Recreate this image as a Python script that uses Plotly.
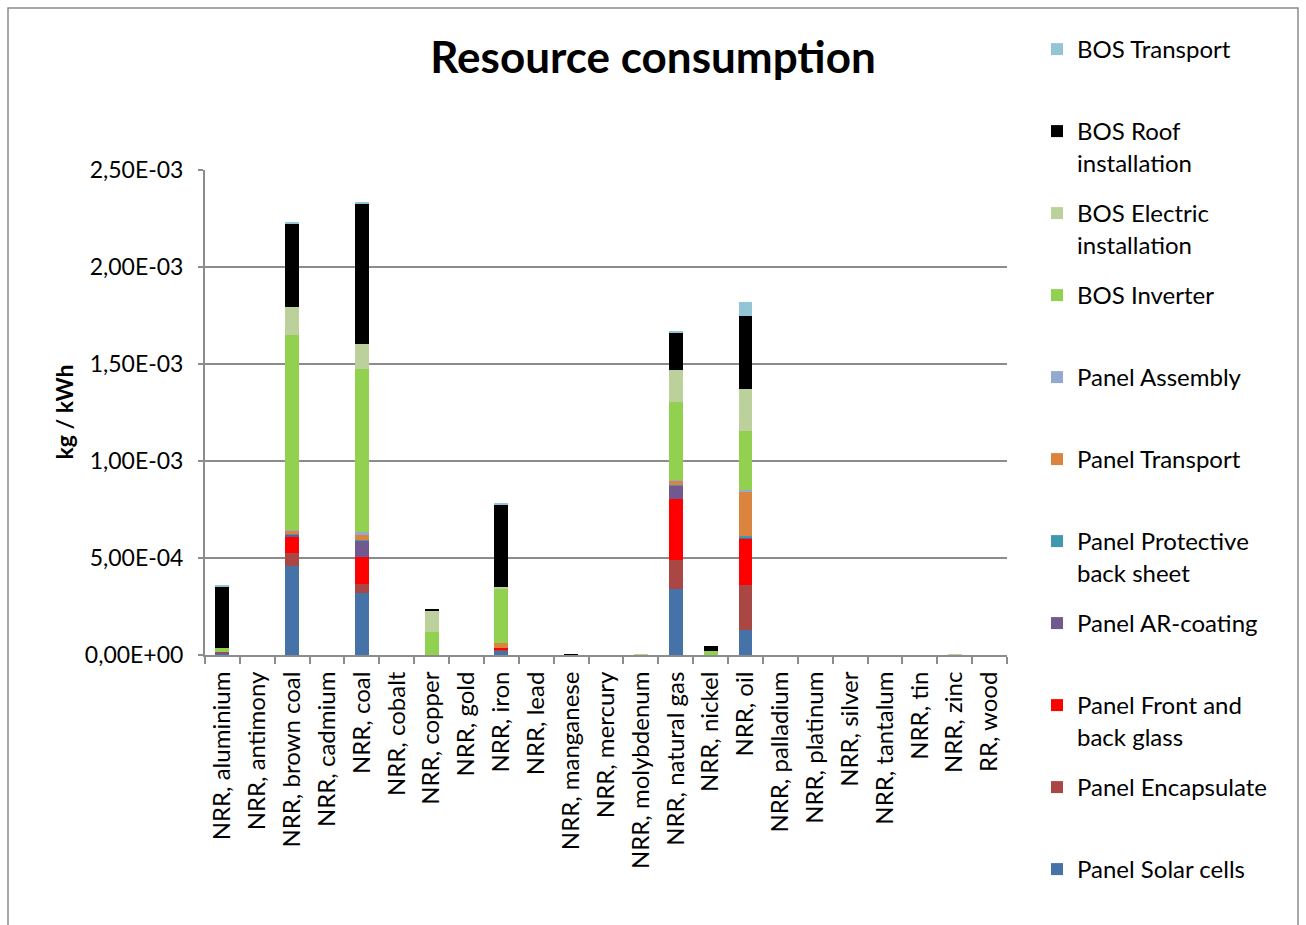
import plotly.graph_objects as go

categories = ["NRR, aluminium", "NRR, antimony", "NRR, brown coal", "NRR, cadmium", "NRR, coal",
              "NRR, cobalt", "NRR, copper", "NRR, gold", "NRR, iron", "NRR, lead", "NRR, manganese",
              "NRR, mercury", "NRR, molybdenum", "NRR, natural gas", "NRR, nickel", "NRR, oil",
              "NRR, palladium", "NRR, platinum", "NRR, silver", "NRR, tantalum", "NRR, tin",
              "NRR, zinc", "RR, wood"]

#                  alu     ant  bcoal     cad  coal     cob  copper gold iron    lead mang   merc moly   ngas     nick    oil      pal plat sil tan tin zinc wood
panel_solar_cells = [1.0e-5, 0, 4.60e-4, 0, 3.18e-4, 0, 0,      0, 2.3e-5, 0, 0,      0, 0,      3.39e-4, 0,      1.29e-4, 0, 0, 0, 0, 0, 0,      0]
panel_encapsulate = [2e-6,   0, 6.4e-5,  0, 4.6e-5,  0, 0,      0, 3e-6,   0, 0,      0, 0,      1.51e-4, 0,      2.32e-4, 0, 0, 0, 0, 0, 0,      0]
panel_glass       = [0,      0, 8.6e-5,  0, 1.42e-4, 0, 0,      0, 9e-6,   0, 0,      0, 0,      3.14e-4, 0,      2.37e-4, 0, 0, 0, 0, 0, 0,      0]
panel_ar_coating  = [3e-6,   0, 1.2e-5,  0, 8.2e-5,  0, 0,      0, 0,      0, 0,      0, 0,      6.9e-5,  0,      1.0e-5,  0, 0, 0, 0, 0, 0,      0]
panel_backsheet   = [0,      0, 3e-6,    0, 3e-6,    0, 0,      0, 0,      0, 0,      0, 0,      2e-6,    0,      3e-6,    0, 0, 0, 0, 0, 0,      0]
panel_transport   = [0,      0, 1.7e-5,  0, 2.6e-5,  0, 0,      0, 2.6e-5, 0, 0,      0, 0,      2.2e-5,  0,      2.34e-4, 0, 0, 0, 0, 0, 0,      0]
panel_assembly    = [0,      0, 3e-6,    0, 1.5e-5,  0, 0,      0, 0,      0, 0,      0, 0,      6e-6,    0,      4e-6,    0, 0, 0, 0, 0, 0,      0]
bos_inverter      = [2.0e-5, 0, 1.005e-3,0, 8.42e-4, 0, 1.2e-4, 0, 2.77e-4,0, 0,      0, 0,      4.0e-4,  2.2e-5, 3.04e-4, 0, 0, 0, 0, 0, 0,      0]
bos_electric      = [0,      0, 1.43e-4, 0, 1.29e-4, 0, 1.08e-4,0, 1.5e-5, 0, 0,      0, 3e-6,   1.67e-4, 0,      2.2e-4,  0, 0, 0, 0, 0, 3e-6,   0]
bos_roof          = [3.2e-4, 0, 4.33e-4, 0, 7.25e-4, 0, 7e-6,   0, 4.23e-4,0, 5e-6,   0, 0,      1.92e-4, 2.6e-5, 3.73e-4, 0, 0, 0, 0, 0, 0,      0]
bos_transport     = [2e-6,   0, 7e-6,    0, 9e-6,    0, 0,      0, 1e-5,   0, 0,      0, 0,      1e-5,    0,      7.4e-5,  0, 0, 0, 0, 0, 0,      0]

series_names = ["Panel Solar cells", "Panel Encapsulate", "Panel Front and<br>back glass",
                "Panel AR-coating", "Panel Protective<br>back sheet", "Panel Transport",
                "Panel Assembly", "BOS Inverter", "BOS Electric<br>installation",
                "BOS Roof<br>installation", "BOS Transport"]
series_values = [panel_solar_cells, panel_encapsulate, panel_glass, panel_ar_coating,
                 panel_backsheet, panel_transport, panel_assembly, bos_inverter,
                 bos_electric, bos_roof, bos_transport]
series_colors = ["#4572A7", "#AA4643", "#FF0000", "#71588F", "#4198AF", "#DB843D",
                 "#93A9CF", "#92D050", "#BBD09A", "#000000", "#93C5D7"]

y_tick_vals = [0, 5e-4, 1e-3, 1.5e-3, 2e-3, 2.5e-3]
y_tick_text = ["0,00E+00", "5,00E-04", "1,00E-03", "1,50E-03", "2,00E-03", "2,50E-03"]

FONT = "Lato"
GRID = "#8c8c8c"

fig = go.Figure()
n = len(series_names)
for i, (name, vals, col) in enumerate(zip(series_names, series_values, series_colors)):
    label = name if "<br>" in name else name + "<br>&nbsp;"
    fig.add_trace(go.Bar(x=categories, y=vals, name=label, marker_color=col,
                         marker_line_width=0, legendgroup=f"g{i}", legendrank=n - i))

L, R, T, B = 205, 1007, 170, 655
W, H = 1306, 925

fig.update_layout(
    width=W, height=H,
    margin=dict(l=L, r=W - R, t=T, b=H - B, autoexpand=False),
    barmode="stack", bargap=0.6,
    plot_bgcolor="white", paper_bgcolor="white",
    font=dict(family=FONT, size=23, color="black"),
    title=dict(text="<b>Resource consumption</b>", x=653 / W, xanchor="center",
               y=1 - 58 / H, yanchor="middle", font=dict(family=FONT, size=44, color="black")),
    legend=dict(xref="container", yref="container", x=1037 / W, xanchor="left",
                y=1 - 27 / H, yanchor="top", valign="top", maxheight=900,
                traceorder="grouped", tracegroupgap=16.6,
                font=dict(family=FONT, size=24, color="black"), bgcolor="rgba(0,0,0,0)"),
    xaxis=dict(type="category", tickangle=-90, showline=True, linecolor=GRID, linewidth=2,
               ticks="outside", tickson="boundaries", ticklen=7, tickcolor=GRID, tickwidth=2,
               showgrid=False, tickfont=dict(family=FONT, size=24), ticklabelstandoff=5),
    yaxis=dict(range=[0, 2.5e-3], tickvals=y_tick_vals, ticktext=y_tick_text,
               showline=True, linecolor=GRID, linewidth=2, ticks="outside", ticklen=5,
               tickcolor=GRID, tickwidth=2, showgrid=True, gridcolor=GRID, gridwidth=1.5,
               zeroline=False, tickfont=dict(family=FONT, size=23), ticklabelstandoff=10),
    annotations=[dict(text="<b>kg / kWh</b>", xref="paper", yref="paper",
                      x=(63 - L) / (R - L), y=0.5, textangle=-90, showarrow=False,
                      xanchor="center", yanchor="middle", font=dict(family=FONT, size=23))],
    shapes=[dict(type="rect", xref="paper", yref="paper",
                 x0=(8 - L) / (R - L), x1=(1298 - L) / (R - L),
                 y0=(B - 940) / (B - T), y1=(B - 8) / (B - T),
                 line=dict(color="#8c8c8c", width=1.5), layer="below")],
)

fig.write_html("out.html")
